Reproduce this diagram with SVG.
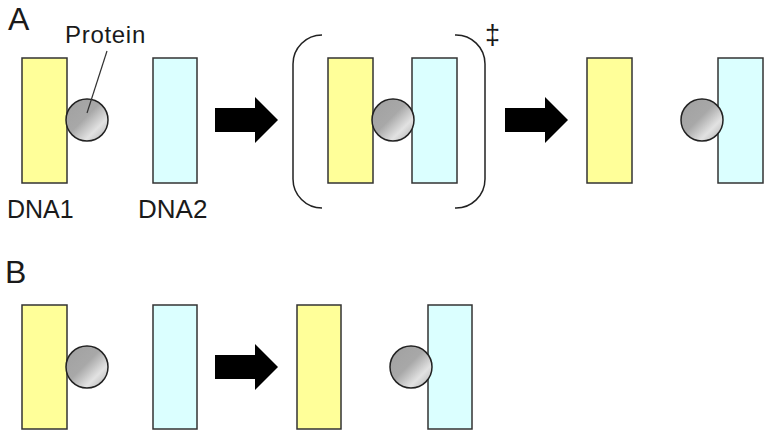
<svg xmlns="http://www.w3.org/2000/svg" width="767" height="434" viewBox="0 0 767 434">
<defs>
<linearGradient id="ball" x1="0" y1="0" x2="1" y2="1">
<stop offset="0" stop-color="#a0a0a0"/>
<stop offset="0.45" stop-color="#a8a8a8"/>
<stop offset="0.72" stop-color="#e2e2e2"/>
<stop offset="1" stop-color="#acacac"/>
</linearGradient>
<path id="arrow" d="M0,-12 H40 V-23 L63,0 L40,23 V12 H0 Z"/>
</defs>
<style>
.d1{fill:#ffff99;stroke:#333;stroke-width:1.5}
.d2{fill:#dbffff;stroke:#333;stroke-width:1.5}
.p{fill:url(#ball);stroke:#222;stroke-width:1.5}
.t{font-family:"Liberation Sans",Arial,sans-serif;fill:#1a1a1a}
.ar{fill:#000}
.br{fill:none;stroke:#222;stroke-width:1.5}
</style>
<rect width="767" height="434" fill="#fff"/>
<text class="t" x="8" y="30" font-size="32">A</text>
<text class="t" x="5" y="283" font-size="32">B</text>

<g id="A-dna1"><rect class="d1" x="22" y="58" width="45" height="125"/><text class="t" x="7" y="218" font-size="25">DNA1</text></g>
<g id="A-protein1"><circle class="p" cx="87" cy="120" r="21"/><text class="t" x="65" y="43" font-size="24" letter-spacing="0.7">Protein</text></g>
<g id="A-dna2"><rect class="d2" x="153" y="58" width="44" height="125"/><text class="t" x="138" y="218" font-size="26">DNA2</text></g>

<g id="A-ts">
<path class="br" d="M322,35 A29,29 0 0 0 293,64 V179 A29,29 0 0 0 322,208"/>
<path class="br" d="M455,35 A29,29 0 0 1 485,64 V179 A29,29 0 0 1 455,208"/>
<text class="t" x="485" y="44" font-size="27">‡</text>
<rect class="d1" x="328" y="58" width="45" height="125"/>
<rect class="d2" x="412" y="58" width="45" height="125"/>
<circle class="p" cx="393" cy="120" r="21"/>
</g>

<g id="A-dna1b"><rect class="d1" x="587" y="58" width="45" height="125"/></g>
<g id="A-dna2b"><rect class="d2" x="718" y="58" width="45" height="125"/></g>
<g id="A-protein2"><circle class="p" cx="702" cy="120" r="21"/></g>

<g id="B-dna1"><rect class="d1" x="22" y="305" width="45" height="124"/></g>
<g id="B-protein1"><circle class="p" cx="87" cy="367" r="21"/></g>
<g id="B-dna2"><rect class="d2" x="153" y="305" width="44" height="124"/></g>
<g id="B-dna1b"><rect class="d1" x="297" y="305" width="44" height="124"/></g>
<g id="B-dna2b"><rect class="d2" x="428" y="305" width="44" height="124"/></g>
<g id="B-protein2"><circle class="p" cx="411" cy="367" r="21"/></g>

<g id="connectors">
<line x1="107" y1="51" x2="87" y2="113" stroke="#333" stroke-width="1.2"/>
<use href="#arrow" class="ar" x="215" y="120"/>
<use href="#arrow" class="ar" x="505" y="120"/>
<use href="#arrow" class="ar" x="215" y="367"/>
</g>
</svg>
